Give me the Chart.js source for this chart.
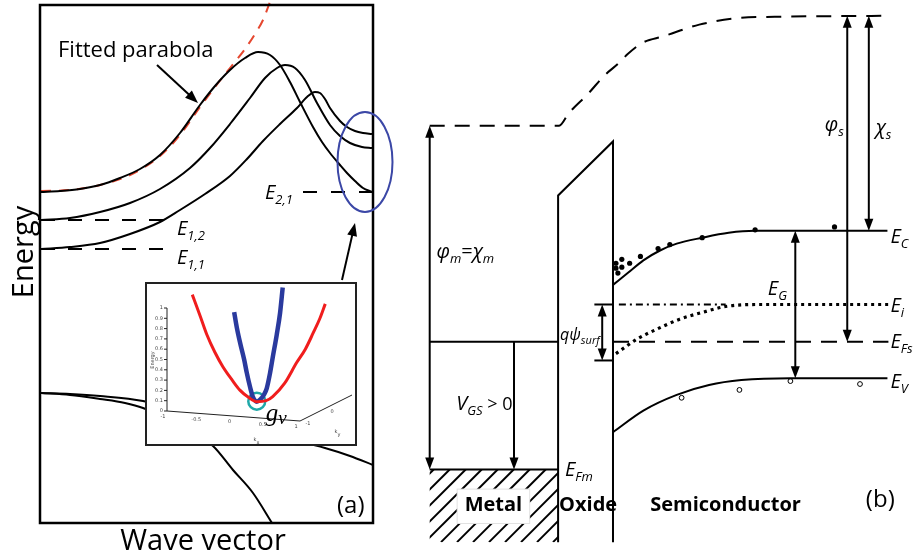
<!DOCTYPE html>
<html lang="en">
<head>
<meta charset="utf-8">
<title>Subband dispersion and MOS band diagram</title>
<script src="https://cdn.jsdelivr.net/npm/chart.js@4.4.1/dist/chart.umd.min.js"></script>
<style>
  html, body { margin: 0; padding: 0; background: #ffffff; }
  #figure { position: relative; width: 914px; height: 554px; overflow: hidden; background: #ffffff; }
  #figure canvas { position: absolute; }
  #figure #bandCanvas { left: 0; top: 0; }
  #figure #mosCanvas { left: 410px; top: 0; }
  #figure #insetCanvas { left: 145px; top: 282px; }
</style>
</head>
<body>
<div id="figure">
  <canvas id="bandCanvas" width="410" height="554"></canvas>
  <canvas id="mosCanvas" width="504" height="554"></canvas>
  <canvas id="insetCanvas" width="212" height="164"></canvas>
</div>
<script>
// ---------- (a) subband dispersion: wave vector k (a.u.) vs energy E (a.u.) ----------
const subbandTopK = [0, 19, 39, 59, 79, 99, 119, 139, 159, 174, 189, 204, 217, 229, 239, 249, 259, 272, 281, 289, 299, 306, 314, 322, 331];
const subbandTopE = [331, 332, 334, 338, 345, 354, 368, 390, 418, 437, 453, 465, 471, 468, 458, 441, 421, 396, 381, 370, 358, 350, 342, 335, 331];
const subbandMidK = [0, 29, 59, 89, 119, 149, 169, 189, 209, 224, 236, 244, 254, 264, 276, 289, 299, 309, 321, 331];
const subbandMidE = [303, 305, 311, 320, 334, 355, 375, 399, 425, 445, 455, 458, 455, 443, 420, 398, 387, 380, 376, 375];
const subbandLowK = [0, 29, 59, 89, 119, 139, 164, 189, 206, 222, 239, 256, 266, 274, 279, 284, 289, 299, 306, 314, 322, 331];
const subbandLowE = [274, 276, 280, 289, 301, 313, 329, 347, 364, 382, 399, 415, 426, 431, 430, 424, 415, 402, 396, 392, 390, 389];
const parabolaK = [0, 29, 59, 89, 119, 139, 159, 174, 189, 204, 214, 222, 229];
const parabolaE = [332, 333, 338, 348, 367, 388, 416, 436, 455, 474, 489, 503, 521];
const valenceHeavyK = [0, 29, 59, 84, 102, 139, 172, 192, 212, 231];
const valenceHeavyE = [130, 128, 124, 120, 115, 98, 77, 53, 30, 0];
const valenceLightK = [0, 29, 59, 102, 189, 284, 309, 332];
const valenceLightE = [130, 129, 127, 122, 98, 75, 67, 58];
const subbandMinima = { E11: 274, E12: 303, E21: 331 };

// ---------- inset: two valleys, energy vs k_x ----------
const insetRedK = [-0.62, -0.50, -0.40, -0.28, -0.16, -0.02, 0.10, 0.23, 0.35, 0.49, 0.59, 0.77, 0.95, 1.08, 1.20, 1.30, 1.38];
const insetRedE = [1.13, 0.92, 0.74, 0.57, 0.43, 0.30, 0.20, 0.13, 0.09, 0.10, 0.14, 0.27, 0.47, 0.60, 0.76, 0.90, 1.04];
const insetBlueK = [0.01, 0.05, 0.10, 0.16, 0.20, 0.25, 0.29, 0.35, 0.40, 0.46, 0.50, 0.55, 0.59, 0.65, 0.70, 0.74];
const insetBlueE = [0.96, 0.81, 0.66, 0.50, 0.37, 0.23, 0.14, 0.09, 0.11, 0.16, 0.22, 0.37, 0.52, 0.74, 0.95, 1.20];
const valleyK = [0.35];
const valleyE = [0.095];
const insetEnergyTicks = [0, 0.1, 0.2, 0.3, 0.4, 0.5, 0.6, 0.7, 0.8, 0.9, 1];
const insetKxTicks = [-1, -0.5, 0, 0.5, 1];
const insetKyTicks = [-1, 0, 1];

// ---------- (b) MOS band diagram: position x (a.u.) vs electron energy E (a.u.) ----------
const vacuumX = [15, 147, 157, 177, 193, 207, 217, 233, 253, 290, 333, 367, 483];
const vacuumE = [431, 431, 444, 464, 482, 494, 504, 516, 522, 534, 541, 542, 543];
const oxideX = [146, 146, 202, 202];
const oxideE = [7, 360, 415, 7];
const conductionX = [202, 217, 233, 250, 267, 293, 320, 347, 482];
const conductionE = [269, 281, 294, 304, 311, 317, 322, 324, 324];
const valenceX = [202, 233, 267, 300, 333, 383, 482];
const valenceE = [119, 141, 157, 167, 172, 174, 174];
const intrinsicX = [205, 227, 247, 270, 297, 317, 350, 483];
const intrinsicE = [199, 214, 224, 234, 242, 247, 249, 249];
const electronsX = [205, 211, 205, 211, 219, 207, 230, 248, 260, 293, 347, 428];
const electronsE = [291, 295, 286, 287, 291, 281, 298, 306, 310, 317, 325, 328];
const holesX = [272, 331, 383, 454];
const holesE = [154, 162, 171, 168];
const levels = { vacuumMetal: 431, vacuumBulk: 543, EC: 324, Ei: 249, EFs: 211, EV: 174, EFm: 81, surfaceEi: 192, bottom: 7 };

const pts = (xs, ys) => xs.map((v, i) => ({ x: v, y: ys[i] }));

function curve(xs, ys, opts) {
  return Object.assign({
    data: pts(xs, ys), showLine: true, fill: false,
    borderColor: '#000', borderWidth: 2, pointRadius: 0,
    cubicInterpolationMode: 'monotone'
  }, opts || {});
}
function straight(xs, ys, opts) {
  return curve(xs, ys, Object.assign({ cubicInterpolationMode: 'default', tension: 0 }, opts || {}));
}
function baseOptions(xMin, xMax, yMin, yMax, padding) {
  return {
    responsive: false, animation: false, events: [],
    layout: { padding },
    plugins: { legend: { display: false }, tooltip: { enabled: false } },
    scales: {
      x: { type: 'linear', min: xMin, max: xMax, display: false },
      y: { type: 'linear', min: yMin, max: yMax, display: false }
    }
  };
}

// text with italic symbols and subscripts: parts = [text, size, italic, dy]
function richText(ctx, x, y, parts, family) {
  let cx = x;
  ctx.textAlign = 'left';
  ctx.textBaseline = 'alphabetic';
  for (const [t, size, italic, dy] of parts) {
    ctx.font = (italic ? 'italic ' : '') + size + 'px ' + (family || '"Open Sans"');
    ctx.fillText(t, cx, y + dy);
    cx += ctx.measureText(t).width;
  }
}
const I = t => [t, 20, true, 0];
const S = t => [t, 13, true, 5];
const R = t => [t, 20, false, 0];

function head(ctx, x0, y0, x1, y1, len, half) {
  const a = Math.atan2(y1 - y0, x1 - x0), c = Math.cos(a), s = Math.sin(a);
  const bx = x1 - len * c, by = y1 - len * s;
  ctx.beginPath();
  ctx.moveTo(x1, y1);
  ctx.lineTo(bx - half * s, by + half * c);
  ctx.lineTo(bx + half * s, by - half * c);
  ctx.closePath();
  ctx.fill();
}
function arrow(ctx, x0, y0, x1, y1, headStart, headEnd, len, half) {
  const d = Math.hypot(x1 - x0, y1 - y0), ux = (x1 - x0) / d, uy = (y1 - y0) / d;
  const sx = headStart ? x0 + ux * len * 0.7 : x0, sy = headStart ? y0 + uy * len * 0.7 : y0;
  const ex = headEnd ? x1 - ux * len * 0.7 : x1, ey = headEnd ? y1 - uy * len * 0.7 : y1;
  ctx.beginPath(); ctx.moveTo(sx, sy); ctx.lineTo(ex, ey); ctx.stroke();
  if (headEnd) head(ctx, x0, y0, x1, y1, len, half);
  if (headStart) head(ctx, x1, y1, x0, y0, len, half);
}

// ---------- panel (a) ----------
const bandLabels = [
  { k: 136, e: subbandMinima.E12 - 15, parts: [I('E'), S('1,2')] },
  { k: 136, e: subbandMinima.E11 - 15, parts: [I('E'), S('1,1')] },
  { k: 224, e: subbandMinima.E21 - 7, parts: [I('E'), S('2,1')] }
];
const bandDecor = {
  id: 'bandDecor',
  afterDatasetsDraw(chart) {
    const { ctx, chartArea: a, scales: { x, y } } = chart;
    const px = v => x.getPixelForValue(v), py = v => y.getPixelForValue(v);
    ctx.save();
    ctx.strokeStyle = '#000';
    ctx.fillStyle = '#000';
    ctx.lineWidth = 2.5;
    ctx.strokeRect(a.left - 1, a.top, a.right - a.left + 1, a.bottom - a.top);

    ctx.textAlign = 'center';
    ctx.textBaseline = 'alphabetic';
    ctx.font = '29px "Open Sans"';
    ctx.fillText('Wave vector', (a.left + a.right) / 2 - 4, a.bottom + 27);
    ctx.save();
    ctx.translate(a.left - 8, 252);
    ctx.rotate(-Math.PI / 2);
    ctx.fillText('Energy', 0, 0);
    ctx.restore();

    ctx.textAlign = 'left';
    ctx.font = '24px "Open Sans"';
    ctx.fillText('(a)', a.right - 36, a.bottom - 10);
    ctx.font = '22px "Open Sans"';
    ctx.fillText('Fitted parabola', px(17), py(466));

    for (const l of bandLabels) richText(ctx, px(l.k), py(l.e), l.parts);

    ctx.lineWidth = 2;
    arrow(ctx, px(116), py(458), px(157), py(420), false, true, 13, 5);
    arrow(ctx, px(301), py(243), px(314), py(300), false, true, 13, 5);

    ctx.strokeStyle = '#3b47a6';
    ctx.lineWidth = 2;
    ctx.beginPath();
    ctx.ellipse(px(324), py(361), 27.5, 50, 0, 0, Math.PI * 2);
    ctx.stroke();
    ctx.restore();
  }
};

new Chart(document.getElementById('bandCanvas'), {
  type: 'scatter',
  data: {
    datasets: [
      curve(valenceHeavyK, valenceHeavyE),
      curve(valenceLightK, valenceLightE),
      curve(subbandLowK, subbandLowE),
      curve(subbandMidK, subbandMidE),
      curve(subbandTopK, subbandTopE),
      straight([0, 134], [subbandMinima.E11, subbandMinima.E11], { borderDash: [14, 13] }),
      straight([0, 134], [subbandMinima.E12, subbandMinima.E12], { borderDash: [14, 13] }),
      straight([262, 331], [subbandMinima.E21, subbandMinima.E21], { borderDash: [14, 14] }),
      curve(parabolaK, parabolaE, { borderColor: '#e5472f', borderDash: [10, 8], clip: false })
    ]
  },
  options: baseOptions(0, 332, 0, 518, { left: 41, right: 37, top: 5, bottom: 31 }),
  plugins: [bandDecor]
});

// ---------- inset ----------
const insetDecor = {
  id: 'insetDecor',
  beforeDraw(chart) {
    const { ctx, width, height } = chart;
    ctx.save();
    ctx.fillStyle = '#fff';
    ctx.fillRect(0, 0, width, height);
    ctx.restore();
  },
  beforeDatasetsDraw(chart) {
    const { ctx, scales: { x, y } } = chart;
    const px = v => x.getPixelForValue(v), py = v => y.getPixelForValue(v);
    const x0 = px(-1), y0 = py(0), slant = 10;
    ctx.save();
    ctx.strokeStyle = '#222';
    ctx.fillStyle = '#444';
    ctx.lineWidth = 1;
    ctx.beginPath();
    ctx.moveTo(x0, py(1)); ctx.lineTo(x0, y0);
    ctx.lineTo(px(1), y0 + slant);
    ctx.lineTo(px(1) + 52, y0 - 16);
    ctx.stroke();
    ctx.font = '5px "DejaVu Sans"';
    ctx.textAlign = 'right';
    ctx.textBaseline = 'middle';
    for (const t of insetEnergyTicks) {
      ctx.beginPath(); ctx.moveTo(x0 - 3, py(t)); ctx.lineTo(x0, py(t)); ctx.stroke();
      ctx.fillText(String(t), x0 - 4, py(t));
    }
    ctx.textAlign = 'center';
    for (const t of insetKxTicks) {
      ctx.fillText(String(t), px(t) - 4, y0 + slant * (t + 1) / 2 + 6);
    }
    insetKyTicks.forEach((t) => {
      const f = (t + 1) / 2;
      ctx.fillText(String(t), px(1) + 8 + f * 48, y0 + slant + 3 - f * 25);
    });
    ctx.save();
    ctx.translate(8, 78);
    ctx.rotate(-Math.PI / 2);
    ctx.fillText('Energy', 0, 0);
    ctx.restore();
    ctx.fillText('k', 110, 158);
    ctx.fillText('x', 113, 161);
    ctx.fillText('k', 191, 150);
    ctx.fillText('y', 194, 153);
    ctx.restore();
  },
  afterDatasetsDraw(chart) {
    const { ctx, width, height, scales: { x, y } } = chart;
    ctx.save();
    ctx.strokeStyle = '#222';
    ctx.lineWidth = 2;
    ctx.strokeRect(1, 1, width - 2, height - 2);
    ctx.fillStyle = '#000';
    const gx = x.getPixelForValue(valleyK[0]) + 9, gy = y.getPixelForValue(valleyE[0]) + 20;
    richText(ctx, gx, gy, [['g', 25, true, 0], ['v', 19, true, 3]], '"Liberation Serif"');
    ctx.restore();
  }
};

new Chart(document.getElementById('insetCanvas'), {
  type: 'scatter',
  data: {
    datasets: [
      curve(insetRedK, insetRedE, { borderColor: '#f01d1d', borderWidth: 3, clip: false }),
      curve(insetBlueK, insetBlueE, { borderColor: '#2a3a9e', borderWidth: 4.5, clip: false }),
      { data: pts(valleyK, valleyE), showLine: false, pointRadius: 8.5, pointBackgroundColor: 'rgba(0,0,0,0)',
        pointBorderColor: '#1fa8a8', pointBorderWidth: 2.5, clip: false }
    ]
  },
  // k_x runs from -1 to 1 along the drawn axis; the range is widened to 1.5 so the far branch stays in view
  options: baseOptions(-1, 1.5, 0, 1, { left: 22, right: 23.75, top: 26, bottom: 35 }),
  plugins: [insetDecor]
});

// ---------- panel (b) ----------
const mosArrows = [
  { x: 15, from: levels.EFm, to: levels.vacuumMetal, both: true },
  { x: 101, from: levels.EFs, to: levels.EFm, both: false },
  { x: 441, from: levels.EFs, to: levels.vacuumBulk, both: true },
  { x: 463, from: levels.EC, to: levels.vacuumBulk, both: true },
  { x: 388, from: levels.EV, to: levels.EC, both: true },
  { x: 191, from: levels.surfaceEi, to: levels.Ei, both: true }
];
const mosLabels = [
  { x: 22, e: 296, parts: [I('φ'), S('m'), R('='), I('χ'), S('m')] },
  { x: 418, e: 426, parts: [I('φ'), S('s')] },
  { x: 470, e: 423, parts: [I('χ'), S('s')] },
  { x: 485, e: 312, parts: [I('E'), S('C')] },
  { x: 360, e: 259, parts: [I('E'), S('G')] },
  { x: 485, e: 241, parts: [I('E'), S('i')] },
  { x: 485, e: 205, parts: [I('E'), S('Fs')] },
  { x: 485, e: 164, parts: [I('E'), S('V')] },
  { x: 148, e: 213, parts: [['qψ', 16, true, 0], ['surf', 11, true, 4]] },
  { x: 42, e: 142, parts: [I('V'), S('GS'), [' > 0', 18, false, 0]] },
  { x: 153, e: 74, parts: [I('E'), S('Fm')] }
];
const mosDecor = {
  id: 'mosDecor',
  afterDatasetsDraw(chart) {
    const { ctx, scales: { x, y } } = chart;
    const px = v => x.getPixelForValue(v), py = v => y.getPixelForValue(v);
    ctx.save();
    ctx.strokeStyle = '#000';
    ctx.fillStyle = '#000';

    // hatched metal
    const hx0 = px(15), hx1 = px(146), hy0 = py(levels.EFm), hy1 = py(levels.bottom);
    ctx.save();
    ctx.beginPath(); ctx.rect(hx0, hy0, hx1 - hx0, hy1 - hy0); ctx.clip();
    ctx.lineWidth = 2;
    const h = hy1 - hy0;
    for (let s = hx0 - h + 4; s < hx1 + 2; s += 16) {
      ctx.beginPath(); ctx.moveTo(s, hy1); ctx.lineTo(s + h, hy0); ctx.stroke();
    }
    ctx.restore();
    ctx.fillStyle = '#fff';
    ctx.fillRect(px(43), py(61), px(117) - px(43), py(26) - py(61));
    ctx.strokeStyle = '#e2e2e2';
    ctx.lineWidth = 1;
    ctx.strokeRect(px(43), py(61), px(117) - px(43), py(26) - py(61));

    ctx.fillStyle = '#000';
    ctx.strokeStyle = '#000';
    ctx.font = 'bold 20px "Open Sans"';
    ctx.textBaseline = 'middle';
    ctx.textAlign = 'center';
    ctx.fillText('Metal', px(80), py(44));
    ctx.textAlign = 'left';
    ctx.fillText('Oxide', px(147), py(44));
    ctx.fillText('Semiconductor', px(240), py(44));
    ctx.textBaseline = 'alphabetic';
    ctx.font = '24px "Open Sans"';
    ctx.fillText('(b)', px(460), py(43));

    // surface potential bracket
    ctx.lineWidth = 2;
    for (const lv of [levels.Ei, levels.surfaceEi]) {
      ctx.beginPath(); ctx.moveTo(px(183), py(lv)); ctx.lineTo(px(202), py(lv)); ctx.stroke();
    }

    for (const a of mosArrows) {
      arrow(ctx, px(a.x), py(a.from), px(a.x), py(a.to), a.both, true, 12, 4.5);
    }
    for (const l of mosLabels) richText(ctx, px(l.x), py(l.e), l.parts);
    ctx.restore();
  }
};

new Chart(document.getElementById('mosCanvas'), {
  type: 'scatter',
  data: {
    datasets: [
      curve(vacuumX, vacuumE, { borderDash: [15, 10] }),
      straight(oxideX, oxideE),
      curve(conductionX, conductionE),
      curve(valenceX, valenceE),
      straight([208, 317], [levels.Ei, levels.Ei], { borderDash: [7, 4, 2, 4], borderWidth: 1.8 }),
      curve(intrinsicX, intrinsicE, { borderDash: [3, 4], borderWidth: 3.2 }),
      straight([202, 483], [levels.EFs, levels.EFs], { borderDash: [16, 10] }),
      straight([15, 146], [levels.EFs, levels.EFs]),
      straight([15, 146], [levels.EFm, levels.EFm]),
      { data: pts(electronsX, electronsE), showLine: false, pointRadius: 2.6,
        pointBackgroundColor: '#000', pointBorderWidth: 0 },
      { data: pts(holesX, holesE), showLine: false, pointRadius: 2.4,
        pointBackgroundColor: '#fff', pointBorderColor: '#000', pointBorderWidth: 1 }
    ]
  },
  options: baseOptions(0, 504, 0, 554, 0),
  plugins: [mosDecor]
});
</script>
</body>
</html>
